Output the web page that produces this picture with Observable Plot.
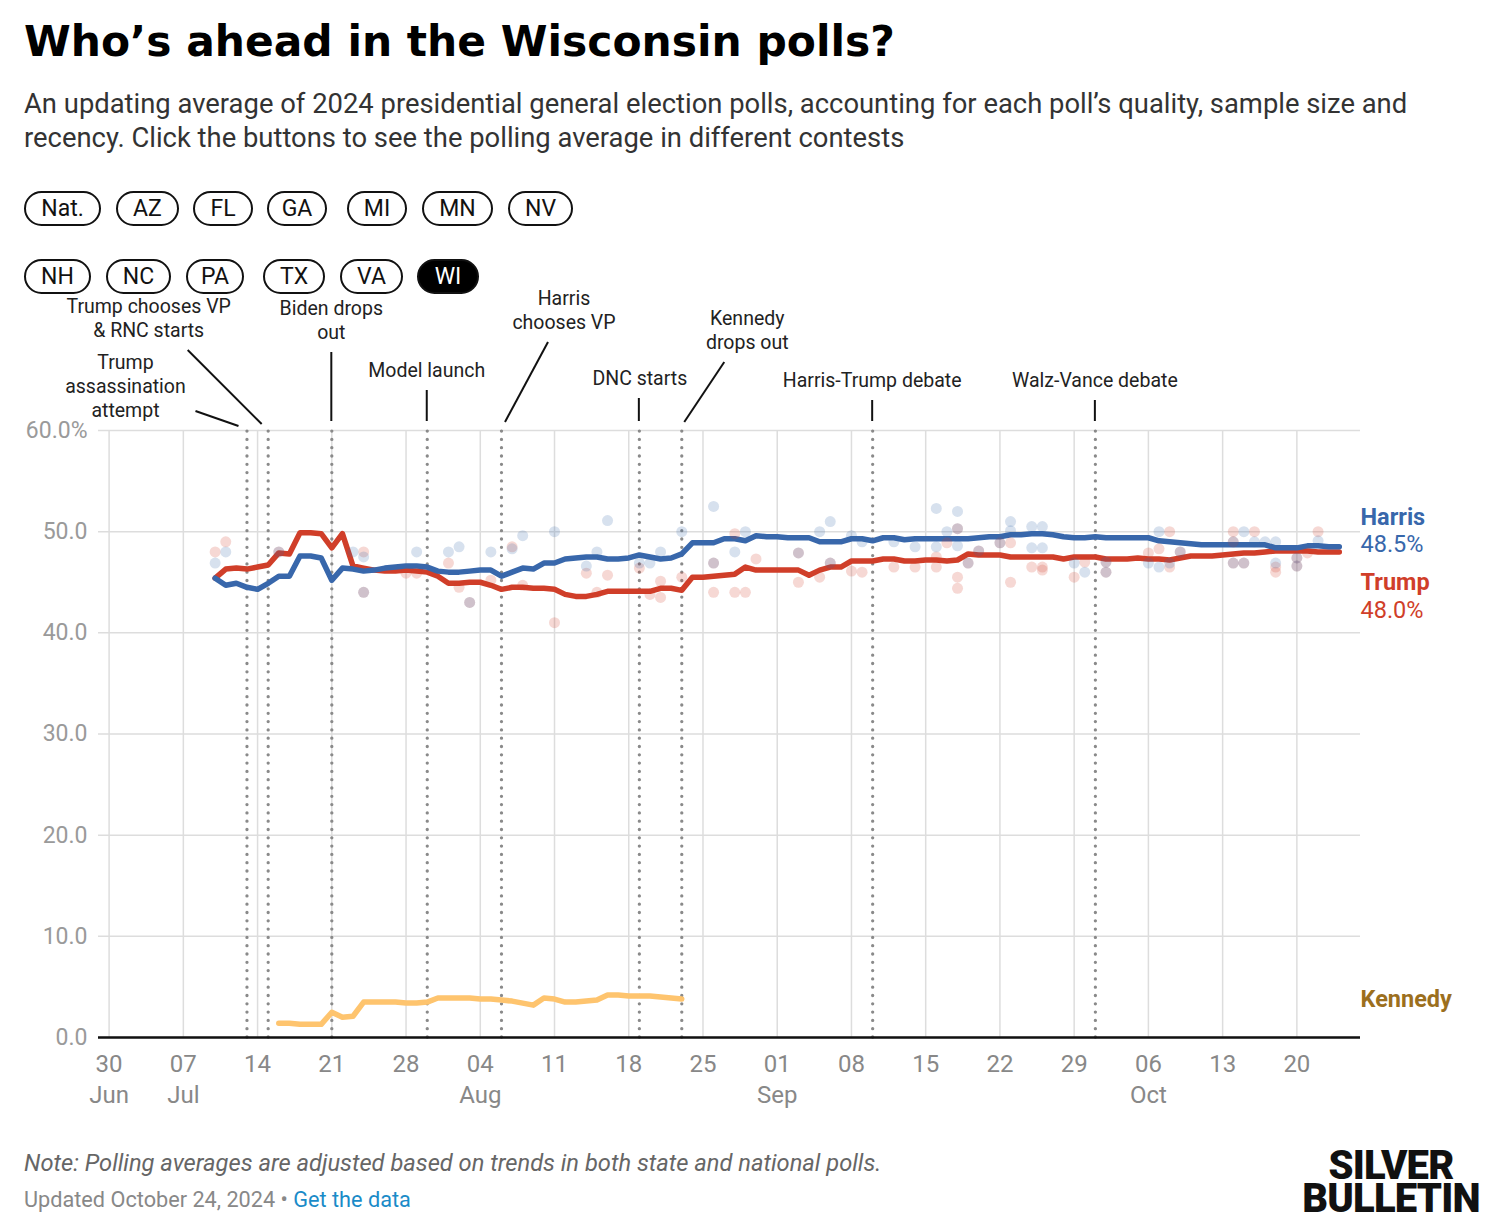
<!DOCTYPE html>
<html>
<head>
<meta charset="utf-8">
<script src="https://cdn.jsdelivr.net/npm/d3@7"></script>
<script src="https://cdn.jsdelivr.net/npm/@observablehq/plot@0.6"></script>
<style>
  body { margin:0; background:#fff; font-family:Roboto, sans-serif; width:1490px; height:1232px; position:relative; overflow:hidden; }
  .abs { position:absolute; }
  #title { left:24px; top:17px; font-family:"DejaVu Sans", sans-serif; font-weight:bold; font-size:42.4px; line-height:50px; color:#000; white-space:nowrap; }
  #subtitle { left:24px; top:87px; font-size:27.4px; line-height:34px; color:#333; white-space:nowrap; }
  .btn { position:absolute; height:35px; box-sizing:border-box; border:2px solid #111; border-radius:18px; font-size:23px; line-height:31px; color:#111; text-align:center; }
  .btn.on { background:#000; color:#fff; }
  #chart { left:0; top:285px; }
  #note { left:24px; top:1148px; font-size:23.7px; line-height:30px; font-style:italic; color:#666; white-space:nowrap; }
  #updated { left:24px; top:1186px; font-size:21.7px; line-height:28px; color:#888; white-space:nowrap; }
  #updated a { color:#1a8bc8; text-decoration:none; }
  .logo { left:1291px; width:200px; height:33px; text-align:center; font-family:Roboto, sans-serif; font-weight:900; font-size:40px; line-height:33px; color:#111; letter-spacing:-0.8px; }
</style>
</head>
<body>
<div id="title" class="abs">Who’s ahead in the Wisconsin polls?</div>
<div id="subtitle" class="abs">An updating average of 2024 presidential general election polls, accounting for each poll’s quality, sample size and<br>recency. Click the buttons to see the polling average in different contests</div>
<div id="buttons" class="abs" style="left:0;top:0"></div>
<div id="chart" class="abs"></div>
<div id="note" class="abs">Note: Polling averages are adjusted based on trends in both state and national polls.</div>
<div id="updated" class="abs">Updated October 24, 2024 • <a>Get the data</a></div>
<div class="abs logo" style="top:1149px">SILVER</div>
<div class="abs logo" style="top:1182px">BULLETIN</div>
<script>
// ---------- DATA ----------
const buttonsRow1 = ["Nat.", "AZ", "FL", "GA", "MI", "MN", "NV"];
const buttonsRow2 = ["NH", "NC", "PA", "TX", "VA", "WI"];
const activeButton = "WI";

const avgStart = "2024-07-10"; // first day of daily averages (through Oct 24)
const harrisAvg = [45.4,44.7,44.9,44.5,44.3,44.9,45.6,45.6,47.6,47.6,47.4,45.2,46.4,46.3,46.1,46.2,46.4,46.5,46.6,46.6,46.5,46.1,46.0,46.0,46.1,46.2,46.2,45.6,46.0,46.4,46.3,46.9,46.9,47.3,47.4,47.5,47.5,47.3,47.3,47.4,47.7,47.5,47.3,47.4,47.8,48.9,48.9,48.9,49.3,49.3,49.1,49.6,49.5,49.5,49.4,49.4,49.4,49.0,49.0,49.0,49.3,49.3,49.1,49.4,49.4,49.2,49.3,49.3,49.3,49.3,49.3,49.3,49.4,49.5,49.5,49.7,49.7,49.8,49.8,49.7,49.5,49.4,49.4,49.5,49.4,49.4,49.4,49.4,49.4,49.1,49.0,48.9,48.8,48.7,48.7,48.7,48.7,48.7,48.7,48.7,48.4,48.4,48.4,48.6,48.6,48.5,48.5];
const trumpAvg = [45.4,46.3,46.4,46.3,46.5,46.7,47.9,47.8,49.9,49.9,49.8,48.4,49.8,46.6,46.4,46.2,46.1,46.1,46.2,46.1,46.0,45.6,44.9,44.9,45.0,45.0,44.7,44.3,44.5,44.5,44.4,44.4,44.3,43.8,43.6,43.6,43.8,44.1,44.1,44.1,44.1,44.1,44.4,44.4,44.2,45.5,45.5,45.6,45.7,45.8,46.5,46.2,46.2,46.2,46.2,46.2,45.7,46.2,46.5,46.5,47.1,47.1,47.1,47.3,47.3,47.1,47.1,47.2,47.2,47.1,47.2,47.8,47.7,47.7,47.7,47.5,47.5,47.5,47.5,47.5,47.3,47.5,47.5,47.5,47.3,47.3,47.3,47.4,47.3,47.3,47.2,47.4,47.6,47.6,47.6,47.7,47.8,47.9,47.9,48.0,48.1,48.1,48.1,48.1,48.0,48.0,48.0];
const kennedyStart = "2024-07-16"; // daily through Aug 23
const kennedyAvg = [1.4,1.4,1.3,1.3,1.3,2.5,2.0,2.1,3.5,3.5,3.5,3.5,3.4,3.4,3.5,3.9,3.9,3.9,3.9,3.8,3.8,3.7,3.6,3.4,3.2,3.9,3.8,3.5,3.5,3.6,3.7,4.2,4.2,4.1,4.1,4.1,4.0,3.9,3.8];

const harrisPolls = [["2024-07-10",46.9],["2024-07-11",48.0],["2024-07-16",48.0],["2024-07-23",48.0],["2024-07-24",47.5],["2024-07-24",44.0],["2024-07-29",48.0],["2024-08-01",48.0],["2024-08-02",48.5],["2024-08-03",43.0],["2024-08-05",48.0],["2024-08-07",48.3],["2024-08-08",49.6],["2024-08-11",50.0],["2024-08-14",46.6],["2024-08-15",48.0],["2024-08-16",51.1],["2024-08-19",46.9],["2024-08-20",46.9],["2024-08-21",48.0],["2024-08-23",50.0],["2024-08-26",52.5],["2024-08-26",46.9],["2024-08-28",48.0],["2024-08-29",50.0],["2024-09-03",47.9],["2024-09-05",50.0],["2024-09-06",51.0],["2024-09-06",46.9],["2024-09-08",49.6],["2024-09-09",49.0],["2024-09-12",49.0],["2024-09-14",48.5],["2024-09-16",52.3],["2024-09-16",48.5],["2024-09-17",50.0],["2024-09-18",52.0],["2024-09-18",50.3],["2024-09-18",48.6],["2024-09-19",46.9],["2024-09-20",48.1],["2024-09-22",48.9],["2024-09-23",51.0],["2024-09-23",50.1],["2024-09-25",50.5],["2024-09-25",48.4],["2024-09-26",50.5],["2024-09-26",48.4],["2024-09-29",46.9],["2024-09-30",46.0],["2024-10-02",47.0],["2024-10-02",46.0],["2024-10-06",46.9],["2024-10-07",50.0],["2024-10-07",46.5],["2024-10-08",46.9],["2024-10-09",48.0],["2024-10-14",49.0],["2024-10-14",46.9],["2024-10-15",50.0],["2024-10-15",46.9],["2024-10-16",49.0],["2024-10-17",49.0],["2024-10-18",49.0],["2024-10-18",46.9],["2024-10-20",47.4],["2024-10-20",46.6],["2024-10-22",49.1]];
const trumpPolls = [["2024-07-10",48.0],["2024-07-11",49.0],["2024-07-16",48.0],["2024-07-24",48.0],["2024-07-24",44.0],["2024-07-28",45.9],["2024-07-29",45.9],["2024-08-01",46.9],["2024-08-02",44.5],["2024-08-03",43.0],["2024-08-05",45.2],["2024-08-07",48.5],["2024-08-08",44.7],["2024-08-11",41.0],["2024-08-14",45.9],["2024-08-15",44.0],["2024-08-16",45.7],["2024-08-19",46.4],["2024-08-20",43.8],["2024-08-21",45.1],["2024-08-21",43.5],["2024-08-23",45.5],["2024-08-26",46.9],["2024-08-26",44.0],["2024-08-28",49.8],["2024-08-28",44.0],["2024-08-29",44.0],["2024-08-30",47.3],["2024-09-03",47.9],["2024-09-03",45.0],["2024-09-05",45.5],["2024-09-06",46.9],["2024-09-08",46.1],["2024-09-09",46.0],["2024-09-12",46.5],["2024-09-14",46.5],["2024-09-16",47.5],["2024-09-16",46.5],["2024-09-17",48.9],["2024-09-18",50.3],["2024-09-18",45.5],["2024-09-18",44.4],["2024-09-19",46.9],["2024-09-20",48.1],["2024-09-22",48.9],["2024-09-23",48.9],["2024-09-23",45.0],["2024-09-25",46.5],["2024-09-26",46.5],["2024-09-26",46.2],["2024-09-29",45.5],["2024-09-30",47.0],["2024-10-02",47.0],["2024-10-02",46.0],["2024-10-06",47.9],["2024-10-07",48.3],["2024-10-08",50.0],["2024-10-08",46.5],["2024-10-09",48.0],["2024-10-14",50.0],["2024-10-14",49.0],["2024-10-14",46.9],["2024-10-15",46.9],["2024-10-16",50.0],["2024-10-18",46.5],["2024-10-18",46.0],["2024-10-20",47.4],["2024-10-20",46.6],["2024-10-21",47.9],["2024-10-22",50.0]];

const eventDates = ["2024-07-13","2024-07-15","2024-07-21","2024-07-30","2024-08-06","2024-08-19","2024-08-23","2024-09-10","2024-10-01"];
const eventLabels = ["Trump\nassassination\nattempt","Trump chooses VP\n& RNC starts","Biden drops\nout","Model launch","Harris\nchooses VP","DNC starts","Kennedy\ndrops out","Harris-Trump debate","Walz-Vance debate"];

const yTicks = [0,10,20,30,40,50,60];
const xDomain = ["2024-06-29","2024-10-26"];
const monthNames = ["Jan","Feb","Mar","Apr","May","Jun","Jul","Aug","Sep","Oct","Nov","Dec"];

// ---------- LAYOUT (pixels, not data) ----------
const buttonBoxes1 = [[24,77],[116,63],[193,60],[267,60],[347,60],[422,71],[508,65]];
const buttonBoxes2 = [[24,67],[106,65],[186,58],[263,62],[340,63],[417,62]];
const annLayout = [
  {dx:-121, y:-68, leader:[-51,-19,-8,-4]},
  {dx:-119, y:-124, leader:[-80,-80,-6,-6]},
  {dx:0, y:-122, leader:[0,-78,0,-9]},
  {dx:0, y:-60, leader:[0,-40,0,-9]},
  {dx:63, y:-132, leader:[47,-88,4,-8]},
  {dx:1, y:-52, leader:[0,-32,0,-9]},
  {dx:66, y:-112, leader:[43,-68,3,-8]},
  {dx:0, y:-50, leader:[0,-30,0,-9]},
  {dx:0, y:-50, leader:[0,-30,0,-9]}
];
const BLUE = "#3867ab", RED = "#d03e29", GOLD = "#fec46e", GOLD_TXT = "#9c6f1e";

// ---------- BUTTONS ----------
function addButtons(list, boxes, top) {
  const host = document.getElementById("buttons");
  list.forEach((b, i) => {
    const d = document.createElement("div");
    d.className = "btn" + (b === activeButton ? " on" : "");
    d.textContent = b;
    d.style.left = boxes[i][0] + "px";
    d.style.width = boxes[i][1] + "px";
    d.style.top = top + "px";
    host.appendChild(d);
  });
}
addButtons(buttonsRow1, buttonBoxes1, 191);
addButtons(buttonsRow2, buttonBoxes2, 259);

// ---------- BUILD TABLES ----------
const parse = d3.utcParse("%Y-%m-%d");
const daily = (start, vals) => vals.map((v, i) => ({date: d3.utcDay.offset(parse(start), i), value: v}));
const harris = daily(avgStart, harrisAvg);
const trump = daily(avgStart, trumpAvg);
const kennedy = daily(kennedyStart, kennedyAvg);
const hPolls = harrisPolls.map(([d, v]) => ({date: parse(d), value: v}));
const tPolls = trumpPolls.map(([d, v]) => ({date: parse(d), value: v}));
const events = eventDates.map((d, i) => ({date: parse(d), label: eventLabels[i]}));
const x0 = parse(xDomain[0]), x1 = parse(xDomain[1]);
const xTicks = d3.utcWeek.range(parse("2024-06-30"), parse("2024-10-21"));
const xFmt = (d, i) => {
  const day = String(d.getUTCDate()).padStart(2, "0");
  return (i === 0 || d.getUTCDate() <= 7) ? day + "\n" + monthNames[d.getUTCMonth()] : day;
};
const lastOf = arr => arr[arr.length - 1];

const plot = Plot.plot({
  width: 1490, height: 830,
  marginTop: 145, marginLeft: 98, marginRight: 130, marginBottom: 78,
  x: {type: "utc", domain: [x0, x1], label: null},
  y: {domain: [0, 60], label: null},
  style: {fontFamily: "Roboto", background: "transparent", overflow: "visible"},
  marks: [
    Plot.gridY(yTicks, {stroke: "#dddddd", strokeOpacity: 1, strokeWidth: 1.5}),
    Plot.gridX(xTicks, {stroke: "#dddddd", strokeOpacity: 1, strokeWidth: 1.5}),
    Plot.axisY(yTicks, {label: null, tickSize: 0, tickPadding: 11, fontSize: 23, color: "#9a9a9a", tickFormat: d => d === 60 ? "60.0%" : d.toFixed(1)}),
    Plot.axisX(xTicks, {label: null, tickSize: 0, tickPadding: 12, fontSize: 24, color: "#888", lineHeight: 1.3, tickFormat: xFmt}),
    Plot.ruleX(events, {x: "date", y1: 0, y2: 60.5, stroke: "#8a8a8a", strokeWidth: 3.3, strokeDasharray: "0,8.3", strokeLinecap: "round"}),
    Plot.line(kennedy, {x: "date", y: "value", stroke: GOLD, strokeWidth: 5.5}),
    Plot.line(trump, {x: "date", y: "value", stroke: RED, strokeWidth: 5.5}),
    Plot.line(harris, {x: "date", y: "value", stroke: BLUE, strokeWidth: 5.5}),
    Plot.dot(tPolls, {x: "date", y: "value", r: 5.5, fill: RED, fillOpacity: 0.2}),
    Plot.dot(hPolls, {x: "date", y: "value", r: 5.5, fill: BLUE, fillOpacity: 0.2}),
    Plot.ruleY([0], {stroke: "#111", strokeWidth: 2.5}),
    Plot.text([{date: x1, value: lastOf(harrisAvg)}], {x: "date", y: "value", text: () => "Harris", textAnchor: "start", dy: -29, fontSize: 23.5, fontWeight: "bold", fill: BLUE}),
    Plot.text([{date: x1, value: lastOf(harrisAvg)}], {x: "date", y: "value", text: d => d.value.toFixed(1) + "%", textAnchor: "start", dy: -2, fontSize: 23.5, fill: BLUE}),
    Plot.text([{date: x1, value: lastOf(trumpAvg)}], {x: "date", y: "value", text: () => "Trump", textAnchor: "start", dy: 31, fontSize: 23.5, fontWeight: "bold", fill: RED}),
    Plot.text([{date: x1, value: lastOf(trumpAvg)}], {x: "date", y: "value", text: d => d.value.toFixed(1) + "%", textAnchor: "start", dy: 59, fontSize: 23.5, fill: RED}),
    Plot.text([{date: x1, value: lastOf(kennedyAvg)}], {x: "date", y: "value", text: () => "Kennedy", textAnchor: "start", dy: 0, fontSize: 23.5, fontWeight: "bold", fill: GOLD_TXT})
  ]
});

// ---------- ANNOTATIONS (positioned via the plot's own scales) ----------
const xs = plot.scale("x"), ys = plot.scale("y");
const frameTop = ys.apply(60);
const g = d3.select(plot).append("g")
  .attr("font-family", "Roboto").attr("font-size", 19.5).attr("fill", "#222").attr("text-anchor", "middle");
events.forEach((e, i) => {
  const L = annLayout[i];
  const xe = xs.apply(e.date);
  g.append("line")
    .attr("x1", xe + L.leader[0]).attr("y1", frameTop + L.leader[1])
    .attr("x2", xe + L.leader[2]).attr("y2", frameTop + L.leader[3])
    .attr("stroke", "#111").attr("stroke-width", 2);
  e.label.split("\n").forEach((t, j) => {
    g.append("text").attr("x", xe + L.dx).attr("y", frameTop + L.y + j * 24).attr("dy", "0.35em").text(t);
  });
});

document.getElementById("chart").appendChild(plot);
</script>
</body>
</html>
